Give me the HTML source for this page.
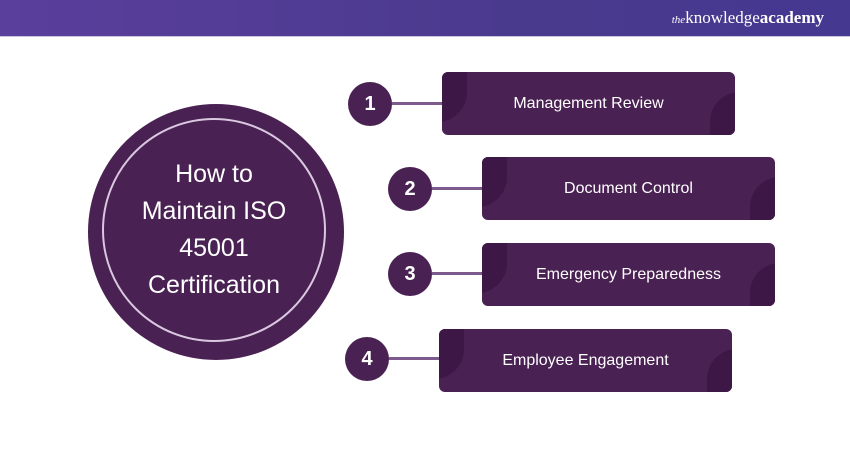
<!DOCTYPE html>
<html><head><style>
body{margin:0;width:850px;height:450px;background:#fff;font-family:"Liberation Sans",sans-serif;overflow:hidden;position:relative}
.hdr{position:absolute;left:0;top:0;width:850px;height:36px;background:linear-gradient(90deg,#5a3f9c,#4a3a8e 60%,#453890);border-bottom:1px solid #c9c4dc}
.logo{position:absolute;right:26px;top:8px;color:#fff;font-family:"Liberation Serif",serif;font-size:17px}
.logo i{font-size:11px}
.box{position:absolute;width:293px;height:63px;background:#4a2153;border-radius:6px;color:#fff;font-size:16px;display:flex;align-items:center;justify-content:center;overflow:hidden}
.box span{position:relative;z-index:2}
.box .b1{position:absolute;left:-20px;top:-30px;width:45px;height:80px;background:#3d1745;border-radius:0 0 30px 0}
.box .b2{position:absolute;right:-20px;top:20px;width:45px;height:70px;background:#3d1745;border-radius:30px 0 0 0}
.num{position:absolute;width:44px;height:44px;border-radius:50%;background:#4a2153;color:#fff;font-size:20px;font-weight:bold;display:flex;align-items:center;justify-content:center}
.ln{position:absolute;height:3px;background:#7d5a8c}
</style></head><body>
<div class="hdr"><div class="logo"><i>the</i>knowledge<b>academy</b></div></div>
<div style="position:absolute;left:88px;top:104px;width:256px;height:256px;border-radius:50%;background:#4a2153"></div>
<div style="position:absolute;left:102px;top:118px;width:224px;height:224px;border-radius:50%;border:2px solid #d9c8e0;box-sizing:border-box;display:flex;align-items:center;justify-content:center;text-align:center;color:#fff;font-size:25px;line-height:37px">How to<br>Maintain ISO<br>45001<br>Certification</div>

<div class="ln" style="left:392px;top:102px;width:52px"></div>
<div class="ln" style="left:432px;top:187px;width:52px"></div>
<div class="ln" style="left:432px;top:272px;width:52px"></div>
<div class="ln" style="left:389px;top:357px;width:52px"></div>

<div class="num" style="left:348px;top:82px">1</div>
<div class="num" style="left:388px;top:167px">2</div>
<div class="num" style="left:388px;top:252px">3</div>
<div class="num" style="left:345px;top:337px">4</div>

<div class="box" style="left:442px;top:72px"><div class="b1"></div><div class="b2"></div><span>Management Review</span></div>
<div class="box" style="left:482px;top:157px"><div class="b1"></div><div class="b2"></div><span>Document Control</span></div>
<div class="box" style="left:482px;top:243px"><div class="b1"></div><div class="b2"></div><span>Emergency Preparedness</span></div>
<div class="box" style="left:439px;top:329px"><div class="b1"></div><div class="b2"></div><span>Employee Engagement</span></div>
</body></html>
